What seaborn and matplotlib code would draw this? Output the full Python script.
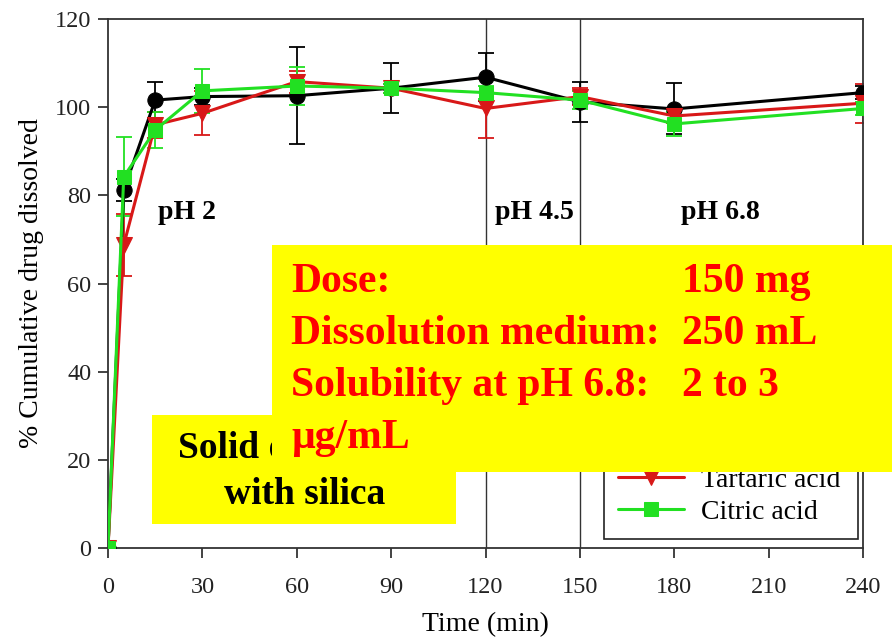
import numpy as np
import pandas as pd
import matplotlib
matplotlib.use("Agg")
import matplotlib.pyplot as plt
from matplotlib.patches import Rectangle
import seaborn as sns

# ── Data ──────────────────────────────────────────────────────────────────────
time_min = [0, 5, 15, 30, 60, 90, 120, 150, 180, 240]

no_acid       = [0, 81.2, 101.6, 102.4, 102.6, 104.3, 106.8, 101.2, 99.6, 103.3]
no_acid_sd    = [0, 2.5, 4.0, 2.0, 11.0, 5.7, 5.4, 4.5, 5.8, 1.5]
tartaric      = [0, 68.7, 96.0, 98.6, 105.8, 104.3, 99.7, 102.4, 98.0, 100.9]
tartaric_sd   = [0, 7.0, 3.0, 5.0, 2.5, 1.0, 6.6, 2.0, 1.5, 4.4]
citric        = [0, 84.2, 94.8, 103.7, 104.8, 104.3, 103.3, 101.6, 96.2, 99.7]
citric_sd     = [0, 9.0, 4.0, 5.0, 4.4, 1.0, 1.5, 2.0, 2.7, 1.5]

series_names  = ["Without acid", "Tartaric acid", "Citric acid"]
series_colors = ["#000000", "#d81818", "#22e022"]
series_marker = ["o", "v", "s"]
series_msize  = [11, 11, 10]

ph_labels     = ["pH 2", "pH 4.5", "pH 6.8"]
ph_label_x    = [16, 123, 182]
ph_change_x   = [120, 150]

x_ticks = [0, 30, 60, 90, 120, 150, 180, 210, 240]
y_ticks = [0, 20, 40, 60, 80, 100, 120]

df = pd.DataFrame({
    "time": time_min * 3,
    "value": no_acid + tartaric + citric,
    "sd": no_acid_sd + tartaric_sd + citric_sd,
    "series": np.repeat(series_names, len(time_min)),
})

# ── Style ─────────────────────────────────────────────────────────────────────
sns.set_style("ticks")
plt.rcParams["font.family"] = ["Liberation Serif", "DejaVu Serif"]
plt.rcParams.update({"text.color": "black", "axes.labelcolor": "black",
                     "xtick.color": "#222222", "ytick.color": "#222222"})

fig = plt.figure(figsize=(8.92, 6.39), dpi=100)
ax = fig.add_axes([108 / 892, 1 - 548 / 639, 755 / 892, 529 / 639])

for x in ph_change_x:
    ax.axvline(x, color="#333333", lw=1.0, zorder=1)

for name, color, mk, ms in zip(series_names, series_colors, series_marker, series_msize):
    sub = df[df["series"] == name]
    ax.errorbar(sub["time"], sub["value"], yerr=sub["sd"], fmt="none",
                ecolor=color, elinewidth=1.3, capsize=6, capthick=1.3, zorder=2)
    sns.lineplot(data=sub, x="time", y="value", ax=ax, color=color, lw=2.2,
                 marker=mk, markersize=ms, markeredgecolor=color,
                 label=name, zorder=3)

ax.set_xlim(0, 240)
ax.set_ylim(0, 120)
ax.set_xticks(x_ticks)
ax.set_yticks(y_ticks)
ax.set_xlabel("Time (min)", fontsize=20, labelpad=10)
ax.set_ylabel("% Cumulative drug dissolved", fontsize=20, labelpad=8)
ax.tick_params(direction="out", length=7, width=1.2, labelsize=17.5, pad=5)
ax.tick_params(axis="x", pad=14)
for spine in ax.spines.values():
    spine.set_visible(True)
    spine.set_color("#333333")
    spine.set_linewidth(1.3)

for lbl, x in zip(ph_labels, ph_label_x):
    ax.text(x, 76, lbl, fontsize=20, fontweight="bold", va="center", ha="left")

leg = ax.legend(loc="lower right", bbox_to_anchor=(0.9934, 0.017),
                borderaxespad=0, fontsize=20, frameon=True, fancybox=False,
                framealpha=1, edgecolor="#222222", handlelength=2.4,
                handletextpad=0.6, labelspacing=0.25, borderpad=0.5)
leg.get_frame().set_linewidth(1.2)

# ── Overlaid yellow callouts ──────────────────────────────────────────────────
fig.add_artist(Rectangle((152 / 892, 1 - 524 / 639), 304 / 892, 109 / 639,
                         transform=fig.transFigure, facecolor="#ffff00",
                         edgecolor="none", zorder=10))
fig.text(305 / 892, 1 - 448 / 639, "Solid dispersion", fontsize=27,
         fontweight="bold", ha="center", va="center", zorder=11)
fig.text(305 / 892, 1 - 495 / 639, "with silica", fontsize=27,
         fontweight="bold", ha="center", va="center", zorder=11)

fig.add_artist(Rectangle((272 / 892, 1 - 472 / 639), 620 / 892, 227 / 639,
                         transform=fig.transFigure, facecolor="#ffff00",
                         edgecolor="none", zorder=12))
info_keys = ["Dose:", "Dissolution medium:", "Solubility at pH 6.8:", "\u03bcg/mL"]
info_vals = ["150 mg", "250 mL", "2 to 3", ""]
info_y    = [282, 334, 386, 438]
for k, v, y in zip(info_keys, info_vals, info_y):
    fig.text(291 / 892, 1 - y / 639, k, fontsize=30, fontweight="bold",
             color="#ff0000", ha="left", va="center", zorder=13)
    if v:
        fig.text(682 / 892, 1 - y / 639, v, fontsize=30, fontweight="bold",
                 color="#ff0000", ha="left", va="center", zorder=13)

fig.savefig("out.png", dpi=100)
